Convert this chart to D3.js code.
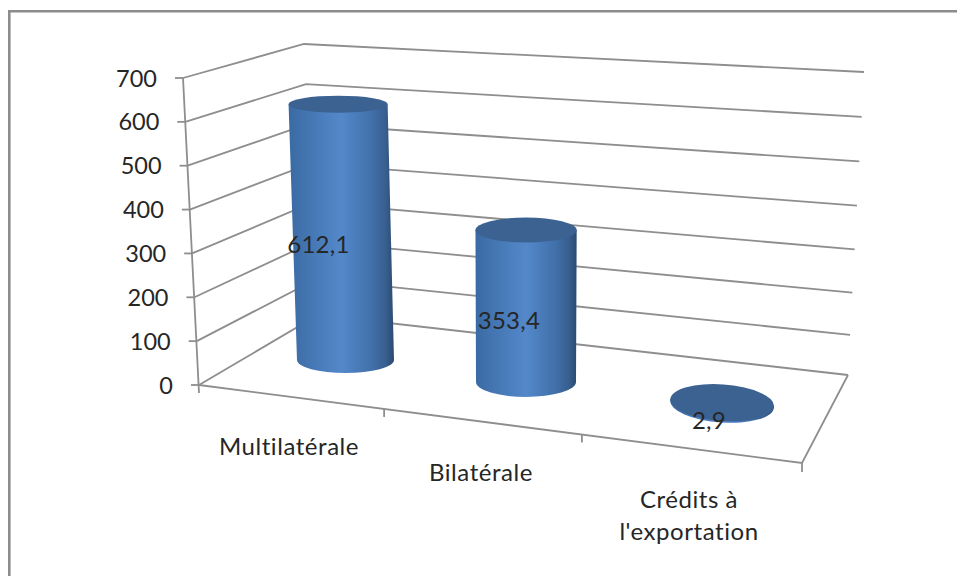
<!DOCTYPE html>
<html lang="fr">
<head>
<meta charset="utf-8">
<title>Dette par catégorie de créancier</title>
<script src="https://cdn.jsdelivr.net/npm/d3@7/dist/d3.min.js"></script>
<style>
  html, body { margin: 0; padding: 0; background: #fff; }
  svg { display: block; }
  text { font-family: Lato, "Open Sans", sans-serif; fill: #262626; }
</style>
</head>
<body>
<div id="chart"></div>
<script>
// Chart data
const categories = [["Multilatérale"], ["Bilatérale"], ["Crédits à", "l'exportation"]];
const values = [612.1, 353.4, 2.9];
const tickValues = [0, 100, 200, 300, 400, 500, 600, 700];

const width = 957, height = 576;
const gridColor = "#8e8e8e";
const frFormat = d3.formatLocale({ decimal: ",", thousands: " ", grouping: [3], currency: ["", ""] }).format(".1f");

const svg = d3.select("#chart").append("svg").attr("width", width).attr("height", height);

// The perspective box: each upright edge gets its own scales over the value
// domain; the far edges use a slight power curve for foreshortening.
const edge = (x0, y0, x1, y1, exponent) => {
  const sx = d3.scalePow().exponent(exponent).domain([0, 700]).range([x0, x1]);
  const sy = d3.scalePow().exponent(exponent).domain([0, 700]).range([y0, y1]);
  return v => [sx(v), sy(v)];
};
const frontLeft = edge(199, 385, 183, 78, 1);
const backLeft = edge(318, 315, 304, 44, 1.04);
const backRight = edge(848, 375, 864, 72, 1.04);
const frontRightFloor = [802, 463];

// Floor positions of the cylinders along the depth-skewed category axis
const baseX = d3.scaleOrdinal().domain([0, 1, 2]).range([345.5, 526, 722]);
const baseY = d3.scaleOrdinal().domain([0, 1, 2]).range([360, 382, 404]);
const baseRx = d3.scaleOrdinal().domain([0, 1, 2]).range([48.5, 50, 52]);

// Pixels per unit grows as the floor point comes closer to the viewer
const unitPx = d3.scaleLinear().domain([360, 382]).range([0.418, 0.430]);
// Ellipse flattening depends on screen height: higher means seen more edge-on
const ryAt = d3.scaleLinear().domain([104, 230, 360, 382, 404]).range([8.5, 12.5, 13, 15, 18.5]);
// Uprights lean away from the vanishing column
const leanAt = d3.scaleLinear().domain([523, 848]).range([0, 0.053]);
// Ellipses tilt progressively to the right of the picture
const tiltAt = d3.scaleLinear().domain([526, 722]).range([0, 4]).clamp(true);

const lineGen = d3.line();

// Walls: gridlines follow the left wall and then the back wall
const grid = svg.append("g").attr("fill", "none").attr("stroke", gridColor).attr("stroke-width", 1.8);
grid.selectAll("path.grid").data(tickValues).join("path")
  .attr("class", "grid")
  .attr("d", v => lineGen([frontLeft(v), backLeft(v), backRight(v)]));

// Value axis, its ticks and labels
grid.append("path").attr("d", lineGen([frontLeft(700), [199, 393]]));
grid.selectAll("path.vtick").data(tickValues).join("path")
  .attr("class", "vtick")
  .attr("d", v => { const p = frontLeft(v); return lineGen([[p[0] - 8, p[1]], p]); });

svg.append("g").selectAll("text").data(tickValues).join("text")
  .attr("x", v => frontLeft(v)[0] - 26)
  .attr("y", v => frontLeft(v)[1] + 8.5)
  .attr("text-anchor", "end")
  .attr("font-size", 23.5)
  .text(v => v);

// Floor outline and category ticks
const floorTicks = [0.307, 0.635];
grid.append("path").attr("d", lineGen([frontLeft(0), frontRightFloor, backRight(0)]));
grid.selectAll("path.ctick").data(floorTicks).join("path")
  .attr("class", "ctick")
  .attr("d", t => {
    const x = 199 + t * (frontRightFloor[0] - 199);
    const y = 385 + t * (frontRightFloor[1] - 385);
    return lineGen([[x, y], [x, y + 8]]);
  });
grid.append("path").attr("d", lineGen([frontRightFloor, [frontRightFloor[0], frontRightFloor[1] + 9]]));

// Cylinder shading
const defs = svg.append("defs");
const grad = defs.append("linearGradient").attr("id", "cyl").attr("x1", 0).attr("x2", 1).attr("y1", 0).attr("y2", 0);
[[0, "#3a6aa3"], [0.14, "#4273ae"], [0.5, "#5388ca"], [0.78, "#4271ab"], [0.92, "#385f8f"], [1, "#2b4a70"]]
  .forEach(([o, c]) => grad.append("stop").attr("offset", o).attr("stop-color", c));

// Cylinders
const cyl = svg.append("g").selectAll("g").data(values).join("g");
cyl.each(function (v, i) {
  const bx = baseX(i), by = baseY(i), rx0 = baseRx(i);
  const h = v * unitPx(by);
  const tx = bx + leanAt(bx) * h;
  const ty = by - h;
  const rx1 = rx0 + h * 0.004;
  const ry0 = ryAt(by), ry1 = ryAt(ty);
  const g = d3.select(this).attr("transform", `rotate(${tiltAt(bx)} ${bx} ${by})`);
  g.append("path")
    .attr("fill", "url(#cyl)")
    .attr("d", `M${tx - rx1},${ty} L${bx - rx0},${by} A${rx0},${ry0} 0 0 0 ${bx + rx0},${by} L${tx + rx1},${ty} Z`);
  g.append("ellipse")
    .attr("cx", tx).attr("cy", ty).attr("rx", rx1).attr("ry", ry1)
    .attr("fill", "#3b6291");
});

// Value labels sit left of each cylinder's axis, just below its mid-height
const labelDx = [-27, -17, -13];
const labelDy = [21, 23, 26];
svg.append("g").selectAll("text").data(values).join("text")
  .attr("x", (v, i) => baseX(i) + labelDx[i])
  .attr("y", (v, i) => baseY(i) - v * unitPx(baseY(i)) / 2 + labelDy[i])
  .attr("text-anchor", "middle")
  .attr("font-size", 24)
  .attr("letter-spacing", 0.3)
  .text(v => frFormat(v));

// Category labels
const catX = [289, 481, 689];
const catY = [455, 481, 508];
svg.append("g").selectAll("text").data(categories).join("text")
  .attr("text-anchor", "middle")
  .attr("font-size", 24)
  .attr("letter-spacing", 0.55)
  .each(function (lines, i) {
    d3.select(this).selectAll("tspan").data(lines).join("tspan")
      .attr("x", catX[i])
      .attr("y", (d, k) => catY[i] + k * 32)
      .text(d => d);
  });

// Chart area frame, open on the right and at the bottom
svg.append("path")
  .attr("fill", "none").attr("stroke", "#8c8c8c").attr("stroke-width", 2.6)
  .attr("d", lineGen([[9.3, height], [9.3, 11.3], [width, 11.3]]));
</script>
</body>
</html>
